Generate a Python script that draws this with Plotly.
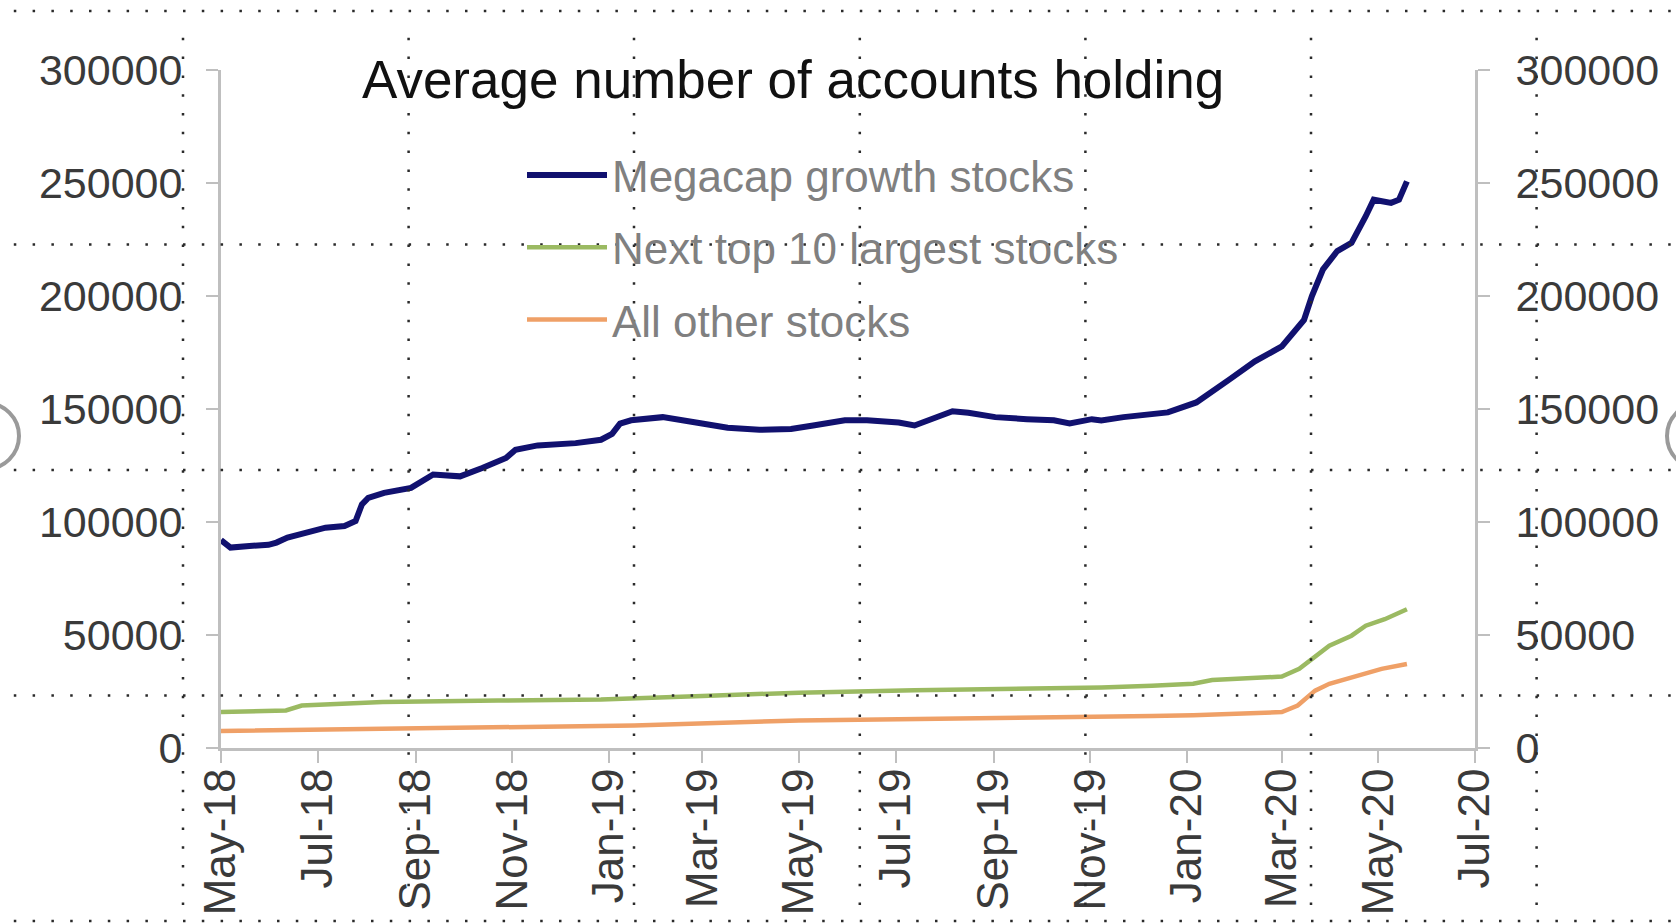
import plotly.graph_objects as go

# ---- data -------------------------------------------------------------
mega_dates = [
    "2018-05-01", "2018-05-07", "2018-05-19", "2018-05-31", "2018-06-05", "2018-06-12",
    "2018-06-24", "2018-07-06", "2018-07-18", "2018-07-25", "2018-07-29", "2018-08-02",
    "2018-08-12", "2018-08-29", "2018-09-12", "2018-09-29", "2018-10-13", "2018-10-28",
    "2018-11-03", "2018-11-17", "2018-12-11", "2018-12-27", "2019-01-03", "2019-01-08",
    "2019-01-15", "2019-02-04", "2019-02-25", "2019-03-17", "2019-04-06", "2019-04-26",
    "2019-05-10", "2019-05-30", "2019-06-13", "2019-07-03", "2019-07-13", "2019-07-23",
    "2019-08-06", "2019-08-16", "2019-09-02", "2019-09-22", "2019-10-09", "2019-10-19",
    "2019-11-02", "2019-11-08", "2019-11-22", "2019-12-20", "2020-01-07", "2020-01-28",
    "2020-02-13", "2020-03-01", "2020-03-15", "2020-03-20", "2020-03-27", "2020-04-05",
    "2020-04-14", "2020-04-23", "2020-04-28", "2020-05-09", "2020-05-14", "2020-05-19",
]
mega_values = [
    92000, 88700, 89400, 89900, 90900, 93100,
    95300, 97500, 98200, 100400, 107800, 110700,
    112900, 115100, 121000, 120200, 123900, 128300,
    132000, 133900, 134900, 136400, 139000, 143500,
    145000, 146400, 144000, 141700, 140800, 141200,
    142700, 145000, 145000, 144000, 142700, 145500,
    149000, 148300, 146400, 145500, 145000, 143600,
    145500, 144900, 146400, 148500, 152900, 163100,
    171100, 177700, 189400, 200000, 211800, 219900,
    223500, 235300, 242600, 241200, 242600, 250700,
]

next10_dates = [
    "2018-05-01", "2018-06-11", "2018-06-21", "2018-08-11", "2018-10-23", "2018-12-27",
    "2019-03-01", "2019-05-01", "2019-07-13", "2019-09-15", "2019-11-08", "2019-12-10",
    "2020-01-05", "2020-01-17", "2020-03-01", "2020-03-12", "2020-03-22", "2020-03-31",
    "2020-04-14", "2020-04-23", "2020-05-05", "2020-05-19",
]
next10_values = [
    15900, 16600, 18800, 20300, 21000, 21500,
    23000, 24500, 25500, 26000, 26800, 27500,
    28400, 30100, 31600, 35000, 40100, 45300,
    49700, 54100, 57000, 61400,
]

other_dates = [
    "2018-05-01", "2018-08-11", "2018-12-27", "2019-01-17", "2019-05-01", "2019-08-06",
    "2019-11-08", "2019-12-10", "2020-01-05", "2020-03-01", "2020-03-11", "2020-03-22",
    "2020-03-31", "2020-04-19", "2020-05-03", "2020-05-19",
]
other_values = [
    7500, 8500, 9600, 10000, 12200, 12900,
    13700, 14200, 14500, 15900, 18800, 25400,
    28400, 32000, 35000, 37200,
]

series_names = ["Megacap growth stocks", "Next top 10 largest stocks", "All other stocks"]
series_colors = ["#11116f", "#9bba62", "#efa067"]

x_tick_dates = [
    "2018-05-01", "2018-07-01", "2018-09-01", "2018-11-01", "2019-01-01", "2019-03-01",
    "2019-05-01", "2019-07-01", "2019-09-01", "2019-11-01", "2020-01-01", "2020-03-01",
    "2020-05-01", "2020-07-01",
]
x_tick_labels = [
    "May-18", "Jul-18", "Sep-18", "Nov-18", "Jan-19", "Mar-19", "May-19", "Jul-19",
    "Sep-19", "Nov-19", "Jan-20", "Mar-20", "May-20", "Jul-20",
]
y_ticks = [0, 50000, 100000, 150000, 200000, 250000, 300000]

# ---- figure -----------------------------------------------------------
W, H = 1676, 924
ML, MR, MT, MB = 221, 201, 70, 176
PW, PH = W - ML - MR, H - MT - MB


def px_x(p):
    return (p - ML) / PW


def px_y(p):
    return (H - MB - p) / PH


FONT = "Liberation Sans, Arial, sans-serif"
AXIS_GREY = "#bfbfbf"

fig = go.Figure()
for i, (d, v, w) in enumerate([
    (mega_dates, mega_values, 6),
    (next10_dates, next10_values, 4.5),
    (other_dates, other_values, 4.5),
]):
    fig.add_trace(go.Scatter(
        x=d, y=v, mode="lines", name=series_names[i],
        line=dict(color=series_colors[i], width=w),
        legendgroup=f"g{i}",
    ))

# invisible trace that carries the mirrored right-hand axis
fig.add_trace(go.Scatter(
    x=[mega_dates[0]], y=[0], yaxis="y2", mode="lines",
    showlegend=False, hoverinfo="skip", line=dict(width=0),
))

axis_common = dict(
    showline=True, linecolor=AXIS_GREY, linewidth=3,
    ticks="outside", ticklen=12, tickwidth=2, tickcolor=AXIS_GREY,
    showgrid=False, zeroline=False, automargin=False,
)

fig.update_layout(
    width=W, height=H,
    margin=dict(l=ML, r=MR, t=MT, b=MB, pad=0),
    paper_bgcolor="white", plot_bgcolor="white",
    font=dict(family=FONT, color="#3a3a3a"),
    showlegend=True,
    legend=dict(
        x=px_x(522), y=px_y(140), xanchor="left", yanchor="top",
        bgcolor="rgba(0,0,0,0)", borderwidth=0,
        font=dict(size=44, color="#808080", family=FONT),
        itemwidth=80, tracegroupgap=12,
    ),
    xaxis=dict(
        type="date", range=["2018-05-01", "2020-07-01"],
        tickvals=x_tick_dates, ticktext=x_tick_labels, tickangle=-90,
        tickfont=dict(size=44, color="#3a3a3a"),
        ticklabelstandoff=-12,
        **axis_common,
    ),
    yaxis=dict(
        range=[0, 300000], tickvals=y_ticks, tickformat="d",
        tickfont=dict(size=43, color="#3a3a3a"),
        ticklabelstandoff=15,
        **axis_common,
    ),
    yaxis2=dict(
        range=[0, 300000], tickvals=y_ticks, tickformat="d",
        overlaying="y", side="right",
        tickfont=dict(size=43, color="#3a3a3a"),
        ticklabelstandoff=17,
        **axis_common,
    ),
    annotations=[dict(
        text="Average number of accounts holding",
        xref="paper", yref="paper", x=px_x(360), y=px_y(80),
        xanchor="left", yanchor="middle", showarrow=False,
        font=dict(size=53, color="#111111", family=FONT),
    )],
)

# dotted guide grid laid over the whole canvas
dot = dict(color="#2a2a2a", width=2.5, dash="2.5px,16.3px")
shapes = []
for yp in [11, 244.6, 470, 695.6, 921]:
    shapes.append(dict(type="line", xref="paper", yref="paper", layer="above",
                       x0=px_x(13.8), x1=px_x(W), y0=px_y(yp), y1=px_y(yp), line=dot))
for xp in [183, 408.6, 634, 859.8, 1085.4, 1311, 1536.6]:
    shapes.append(dict(type="line", xref="paper", yref="paper", layer="above",
                       x0=px_x(xp), x1=px_x(xp), y0=px_y(37.8), y1=px_y(921), line=dot))
# window-edge controls peeking in at the sides
for cx in [-14, W + 24]:
    shapes.append(dict(type="circle", xref="paper", yref="paper", layer="above",
                       x0=px_x(cx - 33), x1=px_x(cx + 33),
                       y0=px_y(436 - 33), y1=px_y(436 + 33),
                       line=dict(color="#9a9a9a", width=4)))
fig.update_layout(shapes=shapes)

fig.write_html("out.html")
